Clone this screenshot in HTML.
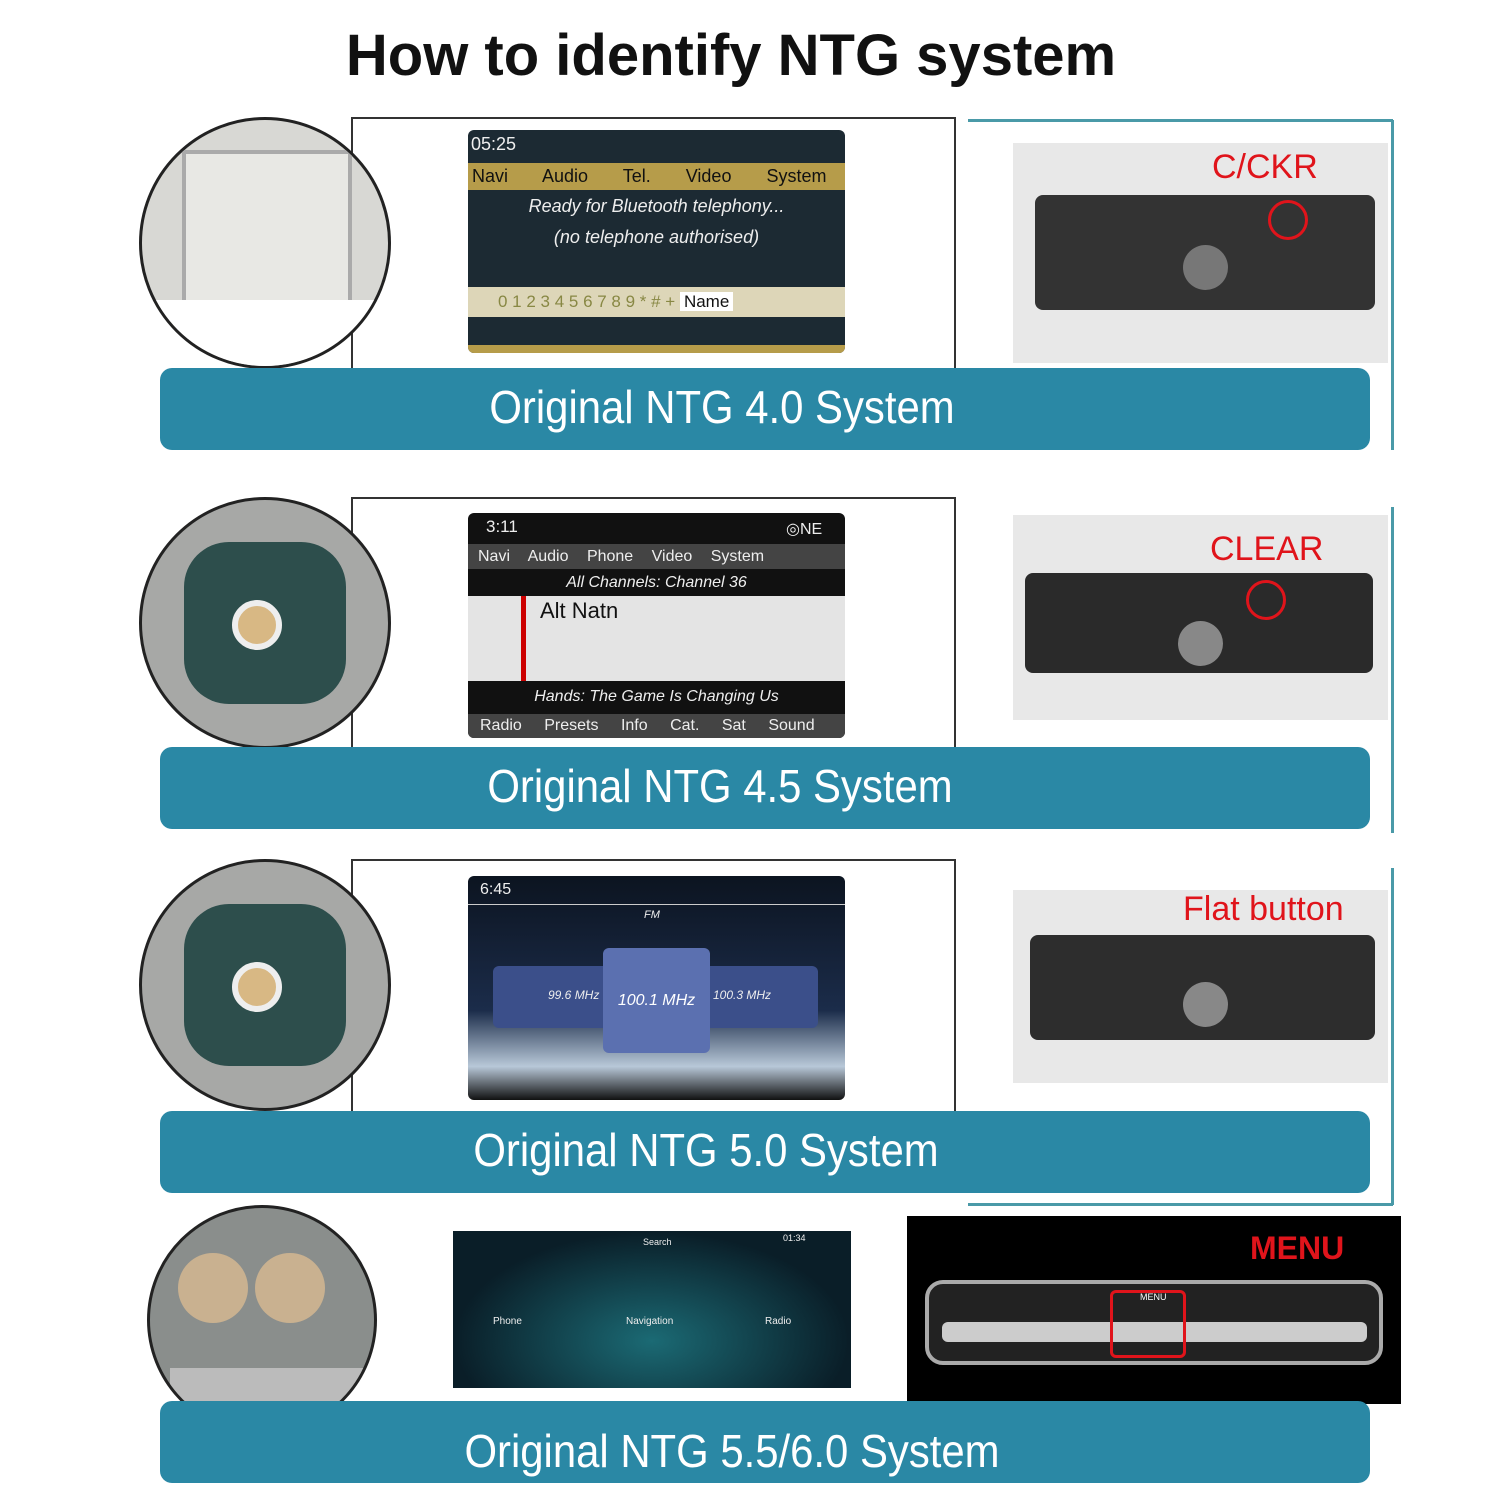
<!DOCTYPE html>
<html><head><meta charset="utf-8"><style>
body{margin:0;width:1500px;height:1500px;background:#fff;position:relative;overflow:hidden;font-family:"Liberation Sans",sans-serif}
.a{position:absolute;box-sizing:border-box}
.ban{position:absolute;left:160px;width:1210px;height:82px;background:#2a88a5;border-radius:12px}
.bt{position:absolute;top:0;width:700px;margin-left:-350px;text-align:center;color:#fff;font-size:46px;line-height:78px;transform:scaleX(0.91);white-space:nowrap}
.frame{position:absolute;left:351px;width:601px;border:2px solid #333;border-bottom:none}
.circ{position:absolute;border-radius:50%;border:3px solid #222;background:#bbb;overflow:hidden}
.scr{position:absolute;background:#111;border-radius:6px;color:#eee;overflow:hidden}
.photo{position:absolute;background:#e8e8e8}
.unit{position:absolute;background:#333;border-radius:8px}
.red{position:absolute;color:#e0141b;font-size:34px}
.rc{position:absolute;border:3px solid #e0141b;border-radius:50%}
</style></head><body>
<div class="a" style="left:0;top:22px;width:1462px;text-align:center;font-size:58px;font-weight:bold;color:#111">How to identify NTG system</div>

<div class="a" style="left:968px;top:119px;width:425px;height:3px;background:#4a9aa8"></div>
<div class="a" style="left:1391px;top:120px;width:3px;height:330px;background:#4a9aa8"></div>
<div class="a" style="left:1391px;top:507px;width:3px;height:326px;background:#4a9aa8"></div>
<div class="a" style="left:1391px;top:868px;width:3px;height:337px;background:#4a9aa8"></div>
<div class="a" style="left:968px;top:1203px;width:425px;height:3px;background:#4a9aa8"></div>

<!-- Row 1 -->
<div class="frame" style="top:117px;height:252px"></div>
<div class="circ" style="left:139px;top:117px;width:246px;height:246px;background:#d8d8d4"><div class="a" style="left:40px;top:30px;width:170px;height:170px;background:#e8e8e4;border:4px solid #aaa"></div><div class="a" style="left:0;top:180px;width:246px;height:66px;background:#fff"></div></div>
<div class="scr" style="left:468px;top:130px;width:377px;height:223px;background:#1c2a33">
<div class="a" style="left:3px;top:4px;font-size:18px">05:25</div>
<div class="a" style="left:0;top:33px;width:377px;height:27px;background:#b69c4a;color:#111;font-size:18px;line-height:27px;word-spacing:30px;padding-left:4px">Navi Audio Tel. Video System</div>
<div class="a" style="left:0;top:66px;width:377px;text-align:center;font-size:18px;font-style:italic">Ready for Bluetooth telephony...</div>
<div class="a" style="left:0;top:97px;width:377px;text-align:center;font-size:18px;font-style:italic">(no telephone authorised)</div>
<div class="a" style="left:0;top:157px;width:377px;height:30px;background:#ddd6b8;color:#884;font-size:17px;line-height:30px;padding-left:30px">0 1 2 3 4 5 6 7 8 9 * # + <span style="color:#111;background:#fff;padding:0 4px">Name</span></div>
<div class="a" style="left:0;top:215px;width:377px;height:8px;background:#b69c4a"></div>
</div>
<div class="photo" style="left:1013px;top:143px;width:375px;height:220px"><div class="unit" style="left:22px;top:52px;width:340px;height:115px"></div><div class="a" style="left:170px;top:102px;width:45px;height:45px;border-radius:50%;background:#777"></div></div>
<div class="red" style="left:1212px;top:148px">C/CKR</div>
<div class="rc" style="left:1268px;top:200px;width:34px;height:34px"></div>
<div class="ban" style="top:368px"><div class="bt" style="left:562px">Original NTG 4.0 System</div></div>

<!-- Row 2 -->
<div class="frame" style="top:497px;height:252px"></div>
<div class="circ" style="left:139px;top:497px;width:246px;height:246px;background:#a7a8a6"><div class="a" style="left:42px;top:42px;width:162px;height:162px;border-radius:45px;background:#2d4e4c"></div><div class="a" style="left:90px;top:100px;width:50px;height:50px;border-radius:50%;background:#d8b884;border:6px solid #eee"></div></div>
<div class="scr" style="left:468px;top:513px;width:377px;height:225px">
<div class="a" style="left:18px;top:4px;font-size:17px">3:11</div><div class="a" style="left:318px;top:6px;font-size:16px">◎NE</div>
<div class="a" style="left:0;top:31px;width:377px;height:25px;background:#444;font-size:16px;line-height:25px;word-spacing:14px;padding-left:10px">Navi Audio Phone Video System</div>
<div class="a" style="left:0;top:61px;width:377px;text-align:center;font-size:16px;font-style:italic">All Channels: Channel 36</div>
<div class="a" style="left:0;top:83px;width:377px;height:85px;background:#e4e4e4;color:#111;font-size:22px;padding:2px 0 0 72px">Alt Natn</div>
<div class="a" style="left:53px;top:83px;width:5px;height:85px;background:#c00"></div>
<div class="a" style="left:0;top:175px;width:377px;text-align:center;font-size:16px;font-style:italic">Hands: The Game Is Changing Us</div>
<div class="a" style="left:0;top:201px;width:377px;height:24px;background:#444;font-size:16px;line-height:24px;word-spacing:18px;padding-left:12px">Radio Presets Info Cat. Sat Sound</div>
</div>
<div class="photo" style="left:1013px;top:515px;width:375px;height:205px"><div class="unit" style="left:12px;top:58px;width:348px;height:100px;background:#2a2a2a"></div><div class="a" style="left:165px;top:106px;width:45px;height:45px;border-radius:50%;background:#888"></div></div>
<div class="red" style="left:1210px;top:530px">CLEAR</div>
<div class="rc" style="left:1246px;top:580px;width:34px;height:34px"></div>
<div class="ban" style="top:747px"><div class="bt" style="left:560px">Original NTG 4.5 System</div></div>

<!-- Row 3 -->
<div class="frame" style="top:859px;height:253px"></div>
<div class="circ" style="left:139px;top:859px;width:246px;height:246px;background:#a7a8a6"><div class="a" style="left:42px;top:42px;width:162px;height:162px;border-radius:45px;background:#2d4e4c"></div><div class="a" style="left:90px;top:100px;width:50px;height:50px;border-radius:50%;background:#d8b884;border:6px solid #eee"></div></div>
<div class="scr" style="left:468px;top:876px;width:377px;height:224px;background:linear-gradient(#0c1420,#1b2c4a 60%,#b8c8d8 85%,#111)">
<div class="a" style="left:12px;top:5px;font-size:16px">6:45</div>
<div class="a" style="left:0;top:28px;width:377px;height:1px;background:#ccc"></div>
<div class="a" style="left:176px;top:33px;font-size:11px;font-style:italic">FM</div>
<div class="a" style="left:25px;top:90px;width:325px;height:62px;background:#3b4f8a;border-radius:6px"></div>
<div class="a" style="left:135px;top:72px;width:107px;height:105px;background:#5b70b0;border-radius:6px;color:#fff;font-size:16px;font-style:italic;text-align:center;line-height:105px">100.1 MHz</div>
<div class="a" style="left:80px;top:112px;font-size:12px;font-style:italic">99.6 MHz</div>
<div class="a" style="left:245px;top:112px;font-size:12px;font-style:italic">100.3 MHz</div>
</div>
<div class="photo" style="left:1013px;top:890px;width:375px;height:193px"><div class="unit" style="left:17px;top:45px;width:345px;height:105px;background:#2d2d2d"></div><div class="a" style="left:170px;top:92px;width:45px;height:45px;border-radius:50%;background:#888"></div></div>
<div class="red" style="left:1183px;top:890px">Flat button</div>
<div class="ban" style="top:1111px"><div class="bt" style="left:546px">Original NTG 5.0 System</div></div>

<!-- Row 4 -->
<div class="circ" style="left:147px;top:1205px;width:224px;height:224px;background:#8a8e8c"><div class="a" style="left:28px;top:45px;width:70px;height:70px;border-radius:50%;background:#c9b190"></div><div class="a" style="left:105px;top:45px;width:70px;height:70px;border-radius:50%;background:#c9b190"></div><div class="a" style="left:20px;top:160px;width:210px;height:70px;background:#bbb"></div></div>
<div class="scr" style="left:453px;top:1231px;width:398px;height:157px;border-radius:0;background:radial-gradient(ellipse at 50% 70%,#1b6a74,#0a1e28 70%)">
<div class="a" style="left:40px;top:85px;font-size:10px">Phone</div><div class="a" style="left:173px;top:85px;font-size:10px">Navigation</div><div class="a" style="left:312px;top:85px;font-size:10px">Radio</div>
<div class="a" style="left:190px;top:6px;font-size:9px">Search</div><div class="a" style="left:330px;top:2px;font-size:9px">01:34</div>
</div>
<div class="a" style="left:907px;top:1216px;width:494px;height:188px;background:#000"></div>
<div class="a" style="left:925px;top:1280px;width:458px;height:85px;border:4px solid #aaa;border-radius:18px;background:#222"></div>
<div class="a" style="left:942px;top:1322px;width:425px;height:20px;background:#ccc;border-radius:6px"></div>
<div class="a" style="left:1250px;top:1230px;color:#e0141b;font-size:32px;font-weight:bold">MENU</div>
<div class="a" style="left:1110px;top:1290px;width:76px;height:68px;border:3px solid #e0141b;border-radius:6px"></div>
<div class="a" style="left:1140px;top:1292px;color:#fff;font-size:9px">MENU</div>
<div class="ban" style="top:1401px"><div class="bt" style="left:572px;line-height:100px">Original NTG 5.5/6.0 System</div></div>
</body></html>
